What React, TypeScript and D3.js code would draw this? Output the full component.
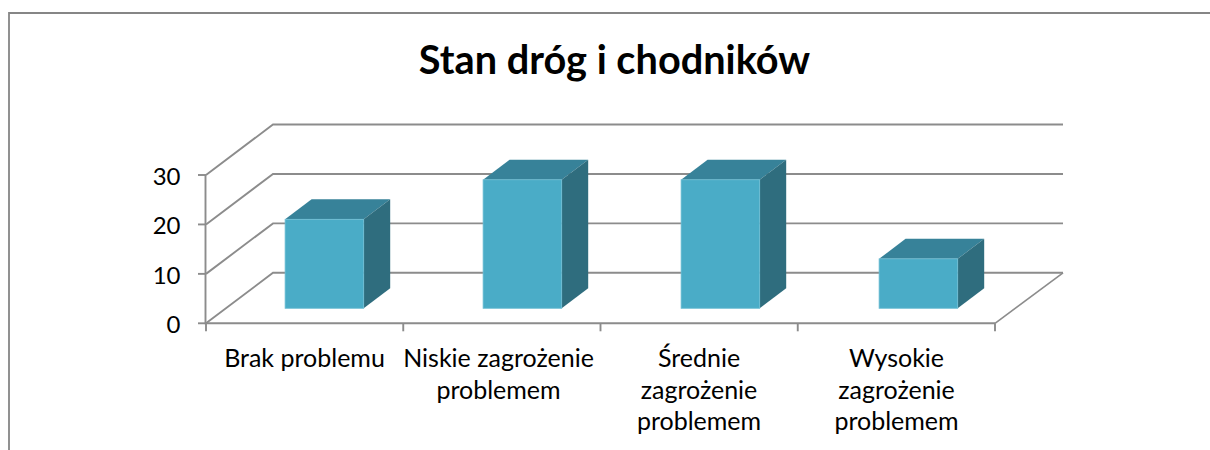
import React from "react";
import * as d3 from "d3";

const chartTitle = "Stan dróg i chodników";
const categories = ["Brak problemu", "Niskie zagrożenie problemem", "Średnie zagrożenie problemem", "Wysokie zagrożenie problemem"];
const categoryLines = [["Brak problemu"], ["Niskie zagrożenie", "problemem"], ["Średnie", "zagrożenie", "problemem"], ["Wysokie", "zagrożenie", "problemem"]];
const values = [18, 26, 26, 10];
const yTicks = [0, 10, 20, 30];

const grid = "#8c8c8c";
const font = "Lato, 'Open Sans', sans-serif";

export default function App() {
  const x = d3.scaleBand<string>().domain(categories).range([206, 995]);
  const barX = d3.scalePoint<string>().domain(categories).range([324.4, 918.4]);
  const labelX = [304.5, 498.5, 699, 896.5];
  const y = d3.scaleLinear().domain([0, 30]).range([323.3, 175]);
  const wallDx = 68, wallDy = -50.5;
  const barDx = 26.5, barDy = -20;
  const barW = 78.6, barOffY = -15;
  return (
    <svg width={1210} height={450} style={{ position: "absolute", left: 0, top: 0, background: "#fff" }} fontFamily={font}>
      <path d="M9 450V13H1210" fill="none" stroke="#868686" strokeWidth={1.8} />
      <text x={614.5} y={74} textAnchor="middle" fontSize={39.7} fontWeight={700} fill="#000">{chartTitle}</text>
      {yTicks.map((t) => (
        <g key={t}>
          <path d={`M${x.range()[0]} ${y(t)}L${x.range()[0] + wallDx - 1} ${y(t) + wallDy}H${x.range()[1] + wallDx}`} fill="none" stroke={grid} strokeWidth={1.9} />
          <path d={`M198 ${y(t)}H${x.range()[0]}`} stroke={grid} strokeWidth={1.9} />
          <text x={180.5} y={y(t) + 10} textAnchor="end" fontSize={24} fill="#000">{t}</text>
        </g>
      ))}
      <path d={`M${x.range()[1]} ${y(0)}L${x.range()[1] + wallDx} ${y(0) + wallDy}`} stroke={grid} strokeWidth={1.6} />
      <path d={`M${x.range()[0] - 0.5} ${y(30)}V${y(0)}H${x.range()[1]}`} fill="none" stroke={grid} strokeWidth={1.9} />
      {d3.range(categories.length + 1).map((i) => {
        const tx = x.range()[0] + i * x.step();
        return <path key={i} d={`M${tx} ${y(0)}V${y(0) + 8}`} stroke={grid} strokeWidth={1.9} />;
      })}
      {categories.map((c, i) => {
        const cx = barX(c)!;
        const l = cx - barW / 2, r = cx + barW / 2;
        const b = y(0) + barOffY;
        const t = b - (y(0) - y(values[i]));
        return (
          <g key={c}>
            <path d={`M${l} ${t}l${barDx} ${barDy}H${r + barDx}L${r} ${t}Z`} fill="#378299" />
            <path d={`M${r} ${t}l${barDx} ${barDy}V${b + barDy}L${r} ${b}Z`} fill="#2f6d7e" />
            <rect x={l} y={t} width={barW} height={b - t} fill="#4aacc7" stroke="#6dbdd3" strokeWidth={0.8} />
          </g>
        );
      })}
      {categoryLines.map((lines, i) => (
        <text key={i} textAnchor="middle" fontSize={25} fill="#000">
          {lines.map((ln, j) => (
            <tspan key={j} x={labelX[i]} y={367 + j * 31.5}>{ln}</tspan>
          ))}
        </text>
      ))}
    </svg>
  );
}
